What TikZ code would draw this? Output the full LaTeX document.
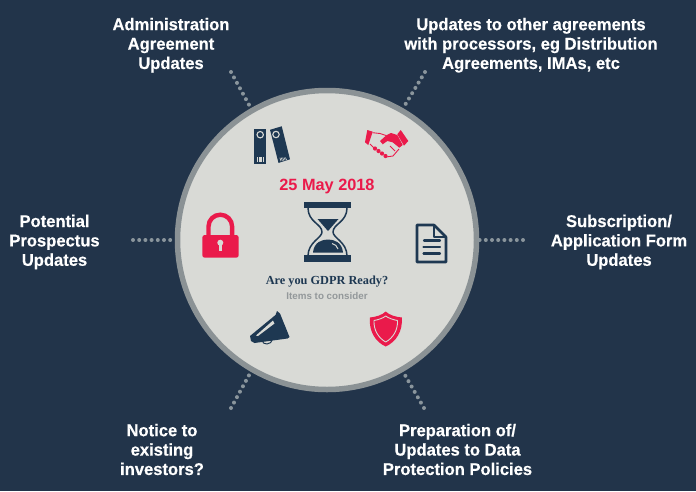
\documentclass[tikz,border=0pt]{standalone}
\usepackage{fontspec}
\setmainfont[BoldFont={Liberation Sans Bold},BoldFeatures={FakeStretch=0.975,FakeBold=0.4}]{Liberation Sans}
\newfontfamily\widefont{Liberation Sans}
\newfontfamily\serifbold{Liberation Serif}
\definecolor{bgnavy}{HTML}{22344A}
\definecolor{disc}{HTML}{D9DAD6}
\definecolor{ringgray}{HTML}{8B9295}
\definecolor{dotgray}{HTML}{8A959C}
\definecolor{hotred}{HTML}{EA1A4B}
\definecolor{iconnavy}{HTML}{1E3852}
\definecolor{softgray}{HTML}{93989A}
\tikzset{
  x=1pt,y=-1pt,
  dotline/.style={draw=dotgray,line width=4pt,line cap=round,dash pattern=on 0pt off 6.2pt},
  lab/.style={text=white,align=center,inner sep=0pt,font=\fontsize{17}{19.4}\selectfont\bfseries},
  navyfill/.style={fill=iconnavy,draw=none},
  redfill/.style={fill=hotred,draw=none},
  navyline/.style={draw=iconnavy,line join=round,line cap=round},
  discline/.style={draw=disc,line join=round,line cap=round}
}
\begin{document}
\begin{tikzpicture}
\useasboundingbox (0,0) rectangle (696,491);
\fill[bgnavy] (0,0) rectangle (696,491);
% disc
\node[circle,draw=ringgray,fill=disc,line width=5.5pt,minimum size=299pt,inner sep=0pt] (ring) at (327,240) {};
% free ends
\coordinate (ul) at (231,72);
\coordinate (ur) at (425,72);
\coordinate (le) at (133,240);
\coordinate (ri) at (523,240);
\coordinate (ll) at (231,408);
\coordinate (lr) at (424,408);
\draw[dotline] (ul) -- (ring.120);
\draw[dotline] (ur) -- (ring.60);
\draw[dotline] (le) -- (ring.180);
\draw[dotline] (ri) -- (ring.0);
\draw[dotline] (ll) -- (ring.240);
\draw[dotline] (lr) -- (ring.300);
% labels
\node[lab] (admin) at (171,45.2) {Administration\\Agreement\\Updates};
\node[lab] (other) at (531,45.2) {Updates to other agreements\\with processors, eg Distribution\\Agreements, IMAs, etc};
\node[lab] (prosp) at (54.5,242) {Potential\\Prospectus\\Updates};
\node[lab] (subs) at (619,242) {Subscription/\\Application Form\\Updates};
\node[lab] (notice) at (162,449.5) {Notice to\\existing\\investors?};
\node[lab] (prep) at (457.5,449.5) {Preparation of/\\Updates to Data\\Protection Policies};
% centre text
\node[inner sep=0pt,text=hotred,font=\fontsize{16.3}{16}\selectfont\widefont\bfseries] (date) at (327,186.5) {25 May 2018};
\node[inner sep=0pt,text=iconnavy,font=\fontsize{12.3}{14}\selectfont\serifbold\bfseries] (ready) at (327,282) {Are you GDPR Ready?};
\node[inner sep=0pt,text=softgray,font=\fontsize{9.8}{11}\selectfont\widefont\bfseries] (items) at (327,296) {Items to consider};
% binders
\fill[navyfill] (254.3,128.7) rectangle (266,164);
\fill[navyfill] (270,129.8) -- (281.7,126.3) -- (290,159.3) -- (278.5,162.9) -- cycle;
\draw[disc,line width=1.1pt] (260.2,134.7) circle (3.2pt);
\draw[disc,line width=1.1pt] (276,134.5) circle (3.2pt);
\foreach \i in {0,1,2,3,4}{
  \draw[disc,line width=.6pt] (257.5+\i*1.4,157) -- (257.5+\i*1.4,162);
  \draw[disc,line width=.6pt] (279.8+\i*1.4,157.6) -- (281+\i*1.4,161.2-\i*.3);
}
% handshake
\fill[redfill] (367.3,130) -- (372.7,131.7) -- (368.3,145) -- (365,142.3) -- cycle;
\fill[redfill] (400.7,130) -- (408.3,141) -- (404,145.7) -- (397.3,134.3) -- cycle;
\fill[redfill] (380,141) -- (386.7,135) -- (391,133) -- (397.3,135) -- (402.7,145) -- (399.3,147.7) -- (392.7,142.3) -- (387.3,141) -- (382.7,144.3) -- cycle;
\draw[hotred,line width=.9pt,line join=round] (372.7,132.7) -- (380,133.5) -- (386,135.5);
\draw[hotred,line width=.9pt,line join=round] (370,144) -- (374,148);
\draw[hotred,line width=.9pt,line join=round] (386,157) -- (393,156) -- (399,149);
\draw[hotred,line width=.9pt,line join=round] (390,146) -- (395,151);
\foreach \p/\q in {375/148.5,378.5/151,382/153.5,385.5/156}{
  \fill[redfill] (\p,\q) circle (2.1pt);
}
% lock
\draw[hotred,line width=4.4pt] (208.5,236) -- (208.5,226.5) arc[start angle=180,end angle=0,radius=11.8pt] -- (232.1,236);
\fill[redfill,rounded corners=2.5pt] (202.3,235) rectangle (238.7,257.7);
\fill[disc] (220.3,242.7) circle (3pt);
\fill[disc] (218.9,243) rectangle (221.7,251);
% hourglass
\fill[navyfill] (304.3,201.7) rectangle (351,208.3);
\fill[navyfill] (304.3,255.3) rectangle (351,262);
\draw[navyline,line width=1.5pt] (308,208) .. controls (308,222) and (322,224) .. (322,232) .. controls (322,238) and (308,242) .. (308,256);
\draw[navyline,line width=1.5pt] (347,208) .. controls (347,222) and (333,224) .. (333,232) .. controls (333,238) and (347,242) .. (347,256);
\fill[navyfill] (317.5,219) -- (338.5,219) -- (328,231) -- cycle;
\fill[navyfill] (313,252.5) .. controls (314,242) and (322,239.5) .. (328,239.5) .. controls (334,239.5) and (342,242) .. (343,252.5) -- cycle;
\draw[disc,line width=1pt] (332,243.5) .. controls (335,244) and (337,246) .. (338,249);
% document
\draw[navyline,line width=2.6pt] (417,225) -- (434,225) -- (446,237) -- (446,262) -- (417,262) -- cycle;
\draw[navyline,line width=2pt] (434,226) -- (434,236.5) -- (445,236.5);
\draw[navyline,line width=2.2pt] (424,240.5) -- (440,240.5);
\draw[navyline,line width=2.2pt] (423.5,247) -- (440,247);
\draw[navyline,line width=2.2pt] (423.5,253.5) -- (440,253.5);
% megaphone
\fill[navyfill] (250,336) -- (275.5,315) -- (277,311) -- (280,313.5) -- (289.5,337) -- (287.5,338.5) -- (254.5,343) -- (251,341) -- cycle;
\fill[disc] (256,335.5) -- (273,320.5) -- (274.5,323.5) -- (258,336) -- cycle;
\draw[navyline,line width=1pt] (262,340) .. controls (262,345.5) and (272,345.5) .. (272,339);
% shield
\fill[redfill] (385.7,311.5) .. controls (389,315) and (396,317) .. (401.8,317.5) .. controls (403,331) and (396,342) .. (385.7,346.5)
  .. controls (375.5,342) and (368.5,331) .. (370,317.5) .. controls (375.5,317) and (382.5,315) .. (385.7,311.5) -- cycle;
\draw[disc,line width=.9pt,line join=round] (385.7,316) .. controls (388,318) and (394,320) .. (397.5,320.5) .. controls (398,330) and (393,338) .. (385.7,342)
  .. controls (378.5,338) and (373.5,330) .. (374,320.5) .. controls (377.5,320) and (383.5,318) .. (385.7,316) -- cycle;
\end{tikzpicture}
\end{document}
